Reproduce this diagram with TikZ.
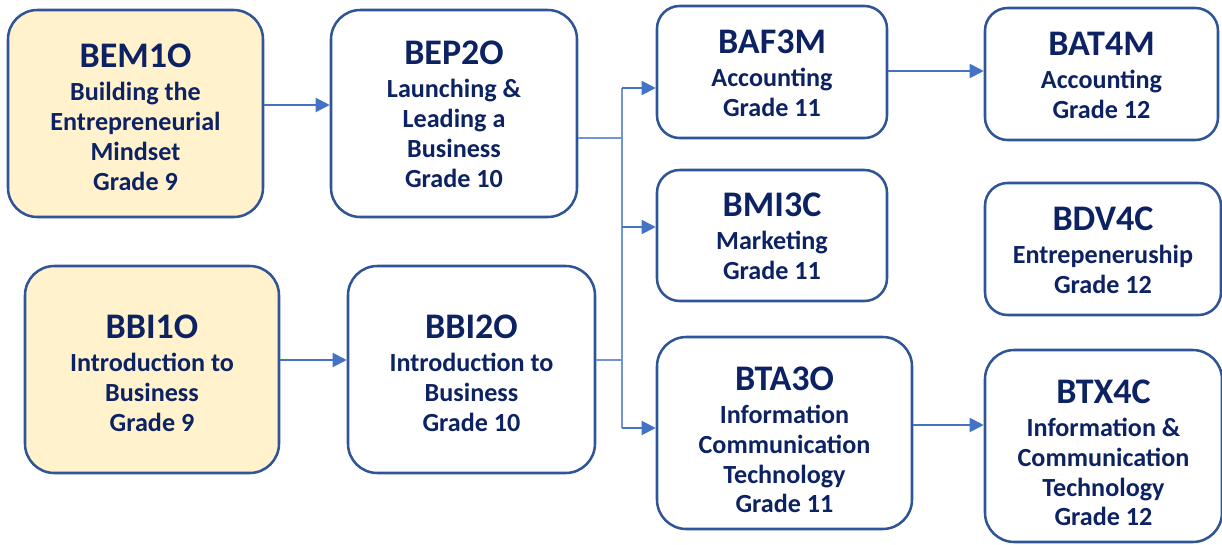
\documentclass[tikz,border=0pt]{standalone}
\usepackage{fontspec}
\setmainfont{Carlito}
\usetikzlibrary{arrows.meta}
\definecolor{navy}{HTML}{2F5597}
\definecolor{txt}{HTML}{0C2263}
\definecolor{conn}{HTML}{4472C4}
\definecolor{connl}{HTML}{6F95D8}
\definecolor{yel}{HTML}{FFF2CC}
\newcommand{\ttl}[2][0pt]{{\fontsize{27}{30}\selectfont\rule{0pt}{\dimexpr19pt+#1\relax}#2}\\[2.5pt]}
\begin{document}
\begin{tikzpicture}[x=0.75pt,y=-0.75pt,
  box/.style 2 args={draw=navy, line width=1.9pt, fill=white, align=center, text=txt,
    font=\bfseries\fontsize{19.6}{22.4}\selectfont, inner sep=0pt,
    minimum width={#1*0.75pt}, minimum height={#2*0.75pt}},
  big/.style={rounded corners=22pt},
  small/.style={rounded corners=17pt},
  start/.style={fill=yel},
  arr/.style={draw=conn, line width=1.4pt, -{Triangle[length=10.5pt,width=10.5pt]}},
  trunk/.style={draw=connl, line width=1.4pt}]
\useasboundingbox (0,0) rectangle (1222,544);

\node[box={255}{207}, big, start] (bem) at (135.5,113.5) {\ttl[4pt]{BEM1O}Building the\\Entrepreneurial\\Mindset\\Grade 9};
\node[box={246}{207}, big] (bep) at (454,113.5) {\ttl{BEP2O}Launching \&\\Leading a\\Business\\Grade 10};
\node[box={254}{207}, big, start] (bbi1) at (152,369.5) {\ttl[4pt]{BBI1O}Introduction to\\Business\\Grade 9};
\node[box={247}{207}, big] (bbi2) at (471.5,369.5) {\ttl[4pt]{BBI2O}Introduction to\\Business\\Grade 10};
\node[box={230}{132}, small] (baf) at (772,72) {\ttl{BAF3M}Accounting\\Grade 11};
\node[box={230}{131}, small] (bmi) at (772,235.5) {\ttl{BMI3C}Marketing\\Grade 11};
\node[box={255}{192}, big] (bta) at (784.5,433) {\ttl[9pt]{BTA3O}Information\\Communication\\Technology\\Grade 11};
\node[box={233}{132}, small] (bat) at (1101.5,74) {\ttl{BAT4M}Accounting\\Grade 12};
\node[box={236}{132}, small] (bdv) at (1103,249) {\ttl{BDV4C}Entrepeneruship\\Grade 12};
\node[box={237}{192}, big] (btx) at (1103.5,446) {\ttl[9pt]{BTX4C}Information \&\\Communication\\Technology\\Grade 12};

\coordinate (jtop) at (622,88);
\coordinate (jmid) at (622,227);
\coordinate (jbot) at (622,428);

\draw[arr] (bem.east |- 0,105) -- (bep.west |- 0,105);
\draw[arr] (bbi1.east |- 0,360) -- (bbi2.west |- 0,360);
\draw[trunk] (bep.east |- 0,138) -- (jtop |- 0,138);
\draw[trunk] (bbi2.east |- 0,360) -- (jtop |- 0,360);
\draw[trunk] (jtop) -- (jbot);
\draw[arr] (jtop) -- (baf.west |- jtop);
\draw[arr] (jmid) -- (bmi.west |- jmid);
\draw[arr] (jbot) -- (bta.west |- jbot);
\draw[arr] (baf.east |- 0,71) -- (bat.west |- 0,71);
\draw[arr] (bta.east |- 0,425) -- (btx.west |- 0,425);
\end{tikzpicture}
\end{document}
